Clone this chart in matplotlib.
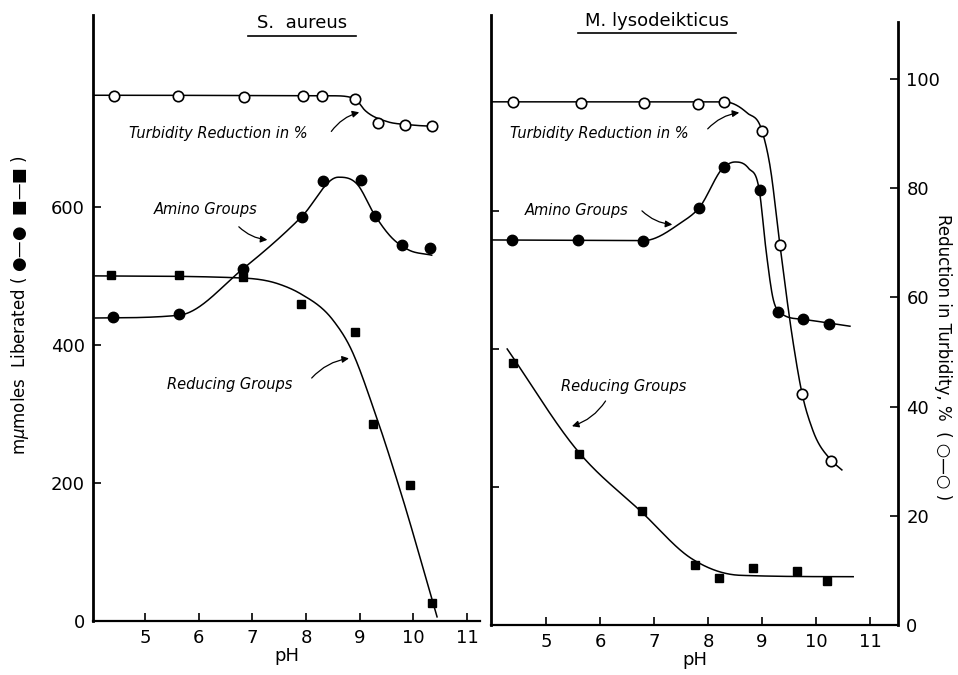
import numpy as np
import matplotlib.pyplot as plt

plt.rcParams['font.family'] = ['DejaVu Sans']

# ---- S. aureus (left panel) ----
sa_turb_ph = [4.42, 5.61, 6.84, 7.94, 8.30, 8.91, 9.34, 9.84, 10.34]
sa_turb = [96.2, 96.2, 96.0, 96.2, 96.2, 95.6, 91.2, 90.8, 90.7]
sa_amino_ph = [4.40, 5.63, 6.82, 7.92, 8.31, 9.02, 9.28, 9.79, 10.31]
sa_amino = [441, 445, 510, 586, 638, 639, 587, 545, 541]
sa_red_ph = [4.37, 5.63, 6.82, 7.90, 8.91, 9.25, 9.93, 10.34]
sa_red = [501, 501, 499, 459, 419, 286, 197, 26]

# hand-drawn fit curves (knots)
sa_turb_fit_ph = [4.03, 8.5, 8.9, 9.1, 9.5, 9.9, 10.4]
sa_turb_fit = [96.3, 96.2, 95.7, 93.5, 91.5, 90.9, 90.6]
sa_amino_fit_ph = [4.07, 5.63, 6.82, 7.92, 8.6, 8.95, 9.28, 9.6, 9.9, 10.34]
sa_amino_fit = [439, 443, 510, 586, 643, 633, 588, 555, 538, 530]
sa_red_fit_ph = [4.07, 6.8, 7.5, 7.9, 8.5, 8.8, 9.3, 9.75, 10.44]
sa_red_fit = [500, 497, 488, 474, 436, 400, 298, 190, 6]

# ---- M. lysodeikticus (right panel) ----
ml_turb_ph = [4.39, 5.65, 6.81, 7.81, 8.30, 9.00, 9.33, 9.74, 10.28]
ml_turb = [95.8, 95.6, 95.6, 95.4, 95.8, 90.5, 69.6, 42.3, 30.0]
ml_amino_ph = [4.37, 5.59, 6.80, 7.83, 8.30, 8.96, 9.30, 9.76, 10.24]
ml_amino = [558, 558, 557, 604, 664, 630, 454, 443, 436]
ml_red_ph = [4.39, 5.61, 6.78, 7.76, 8.20, 8.83, 9.65, 10.20]
ml_red = [380, 248, 165, 87, 68, 83, 78, 64]

ml_turb_fit_ph = [3.98, 8.3, 8.72, 9.0, 9.15, 9.33, 9.57, 9.74, 9.94, 10.28, 10.48]
ml_turb_fit = [95.8, 95.8, 93.8, 90.5, 84.0, 69.8, 52.2, 42.5, 35.7, 30.2, 28.4]
ml_amino_fit_ph = [3.98, 6.8, 7.48, 7.83, 8.3, 8.5, 8.75, 8.95, 9.08, 9.2, 9.35, 9.76, 10.63]
ml_amino_fit = [558, 557, 582, 604, 664, 671, 662, 630, 540, 475, 452, 443, 433]
ml_red_fit_ph = [4.28, 5.61, 6.78, 7.7, 8.6, 10.69]
ml_red_fit = [400, 250, 163, 96, 72, 70]


def smooth(xk, yk, n=400):
    # monotone cubic hermite (Fritsch-Carlson) through the knots
    xk = np.asarray(xk, float)
    yk = np.asarray(yk, float)
    h = np.diff(xk)
    d = np.diff(yk) / h
    m = np.zeros_like(yk)
    m[0], m[-1] = d[0], d[-1]
    m[1:-1] = (d[:-1] * h[1:] + d[1:] * h[:-1]) / (h[:-1] + h[1:])
    for k in range(len(d)):
        if d[k] == 0:
            m[k] = m[k + 1] = 0
            continue
        a, b = m[k] / d[k], m[k + 1] / d[k]
        if a < 0:
            m[k] = a = 0
        if b < 0:
            m[k + 1] = b = 0
        s = a * a + b * b
        if s > 9:
            tau = 3 / np.sqrt(s)
            m[k], m[k + 1] = tau * a * d[k], tau * b * d[k]
    xs = np.linspace(xk[0], xk[-1], n)
    i = np.clip(np.searchsorted(xk, xs) - 1, 0, len(h) - 1)
    t = (xs - xk[i]) / h[i]
    h00 = 2 * t**3 - 3 * t**2 + 1
    h10 = t**3 - 2 * t**2 + t
    h01 = -2 * t**3 + 3 * t**2
    h11 = t**3 - t**2
    ys = h00 * yk[i] + h10 * h[i] * m[i] + h01 * yk[i + 1] + h11 * h[i] * m[i + 1]
    return xs, ys


W, H = 958, 675
fig = plt.figure(figsize=(W / 100, H / 100), dpi=100)

lw_curve = 1.1
tick_fs = 13
ital = dict(fontsize=10.5, style='italic')
arrow = dict(arrowstyle='-|>', lw=0.9, color='black', mutation_scale=10,
             connectionstyle='arc3,rad=-0.2')


def style_axes(ax, ylim):
    for s in ['top', 'right']:
        ax.spines[s].set_visible(False)
    ax.spines['left'].set_linewidth(2)
    ax.spines['bottom'].set_linewidth(1.6)
    ax.set_ylim(*ylim)
    ax.set_xticks(range(5, 12))
    ax.tick_params(direction='in', length=6, width=1.2, labelsize=tick_fs, pad=6)


def draw_panel(ax, axt, tph, tv, tfx, tfy, aph, av, afx, afy, rph, rv, rfx, rfy):
    x, y = smooth(tfx, tfy)
    axt.plot(x, y, color='black', lw=lw_curve)
    axt.plot(tph, tv, 'o', ms=7.5, mfc='white', mec='black', mew=1.2, zorder=5)
    x, y = smooth(afx, afy)
    ax.plot(x, y, color='black', lw=lw_curve)
    ax.plot(aph, av, 'o', ms=7.5, color='black', zorder=5)
    x, y = smooth(rfx, rfy)
    ax.plot(x, y, color='black', lw=lw_curve)
    ax.plot(rph, rv, 's', ms=5.5, color='black', zorder=5)


# ---- left panel ----
ax1 = fig.add_axes([93 / W, (H - 621) / H, (480 - 93) / W, (621 - 15) / H])
style_axes(ax1, (0, 878))
ax1.set_xlim(4.03, 11.24)
ax1.set_yticks([0, 200, 400, 600])
ax1.set_xlabel('pH', fontsize=13, labelpad=0)
ax1t = ax1.twinx()
ax1t.set_ylim(0, 111)
ax1t.axis('off')
draw_panel(ax1, ax1t, sa_turb_ph, sa_turb, sa_turb_fit_ph, sa_turb_fit,
           sa_amino_ph, sa_amino, sa_amino_fit_ph, sa_amino_fit,
           sa_red_ph, sa_red, sa_red_fit_ph, sa_red_fit)

ax1.text(6.36, 707, 'Turbidity Reduction in %', ha='center', va='center', **ital)
ax1.annotate('', xy=(9.04, 738), xytext=(8.44, 706), arrowprops=arrow)
ax1.text(6.12, 596, 'Amino Groups', ha='center', va='center', **ital)
ax1.annotate('', xy=(7.33, 552), xytext=(6.71, 574), arrowprops=dict(arrow, connectionstyle='arc3,rad=0.2'))
ax1.text(6.58, 342, 'Reducing Groups', ha='center', va='center', **ital)
ax1.annotate('', xy=(8.85, 381), xytext=(8.07, 349), arrowprops=arrow)

# ---- right panel ----
ax2 = fig.add_axes([491 / W, (H - 625) / H, (898 - 491) / W, (625 - 15) / H])
style_axes(ax2, (0, 884))
ax2.set_xlim(3.98, 11.52)
ax2.set_yticks([200, 400, 600])
ax2.set_yticklabels([])
ax2.set_xlabel('pH', fontsize=13, labelpad=0)
ax2t = ax2.twinx()
ax2t.set_ylim(0, 111.7)
for s in ['top', 'left', 'bottom']:
    ax2t.spines[s].set_visible(False)
ax2t.spines['right'].set_linewidth(2)
ax2t.spines['right'].set_bounds(0, 110.4)
ax2t.set_yticks(range(0, 101, 20))
ax2t.tick_params(direction='in', length=6, width=1.2, labelsize=tick_fs, pad=6)
draw_panel(ax2, ax2t, ml_turb_ph, ml_turb, ml_turb_fit_ph, ml_turb_fit,
           ml_amino_ph, ml_amino, ml_amino_fit_ph, ml_amino_fit,
           ml_red_ph, ml_red, ml_red_fit_ph, ml_red_fit)

ax2.text(5.98, 712, 'Turbidity Reduction in %', ha='center', va='center', **ital)
ax2.annotate('', xy=(8.63, 743), xytext=(7.96, 716), arrowprops=arrow)
ax2.text(5.57, 600, 'Amino Groups', ha='center', va='center', **ital)
ax2.annotate('', xy=(7.39, 580), xytext=(6.74, 603), arrowprops=dict(arrow, connectionstyle='arc3,rad=0.2'))
ax2.text(6.44, 345, 'Reducing Groups', ha='center', va='center', **ital)
ax2.annotate('', xy=(5.43, 287), xytext=(6.13, 328), arrowprops=arrow)

# axis titles placed like the original
fig.text(20 / W, 1 - 305 / H, 'm$\\mu$moles  Liberated ( \u25cf\u2014\u25cf  \u25a0\u2014\u25a0 )',
         rotation=90, ha='center', va='center', fontsize=12)
fig.text(943 / W, 1 - 357 / H, 'Reduction in Turbidity, %  ( \u25cb\u2014\u25cb )',
         rotation=-90, ha='center', va='center', fontsize=12)

# panel titles, underlined
fig.text(302 / W, 1 - 23 / H, 'S.  aureus', ha='center', va='center', fontsize=13)
fig.add_artist(plt.Line2D([248 / W, 356 / W], [1 - 36 / H] * 2, color='black', lw=1.2))
fig.text(657 / W, 1 - 21 / H, 'M. lysodeikticus', ha='center', va='center', fontsize=13)
fig.add_artist(plt.Line2D([578 / W, 736 / W], [1 - 33 / H] * 2, color='black', lw=1.2))

fig.savefig('out.png', dpi=100)
